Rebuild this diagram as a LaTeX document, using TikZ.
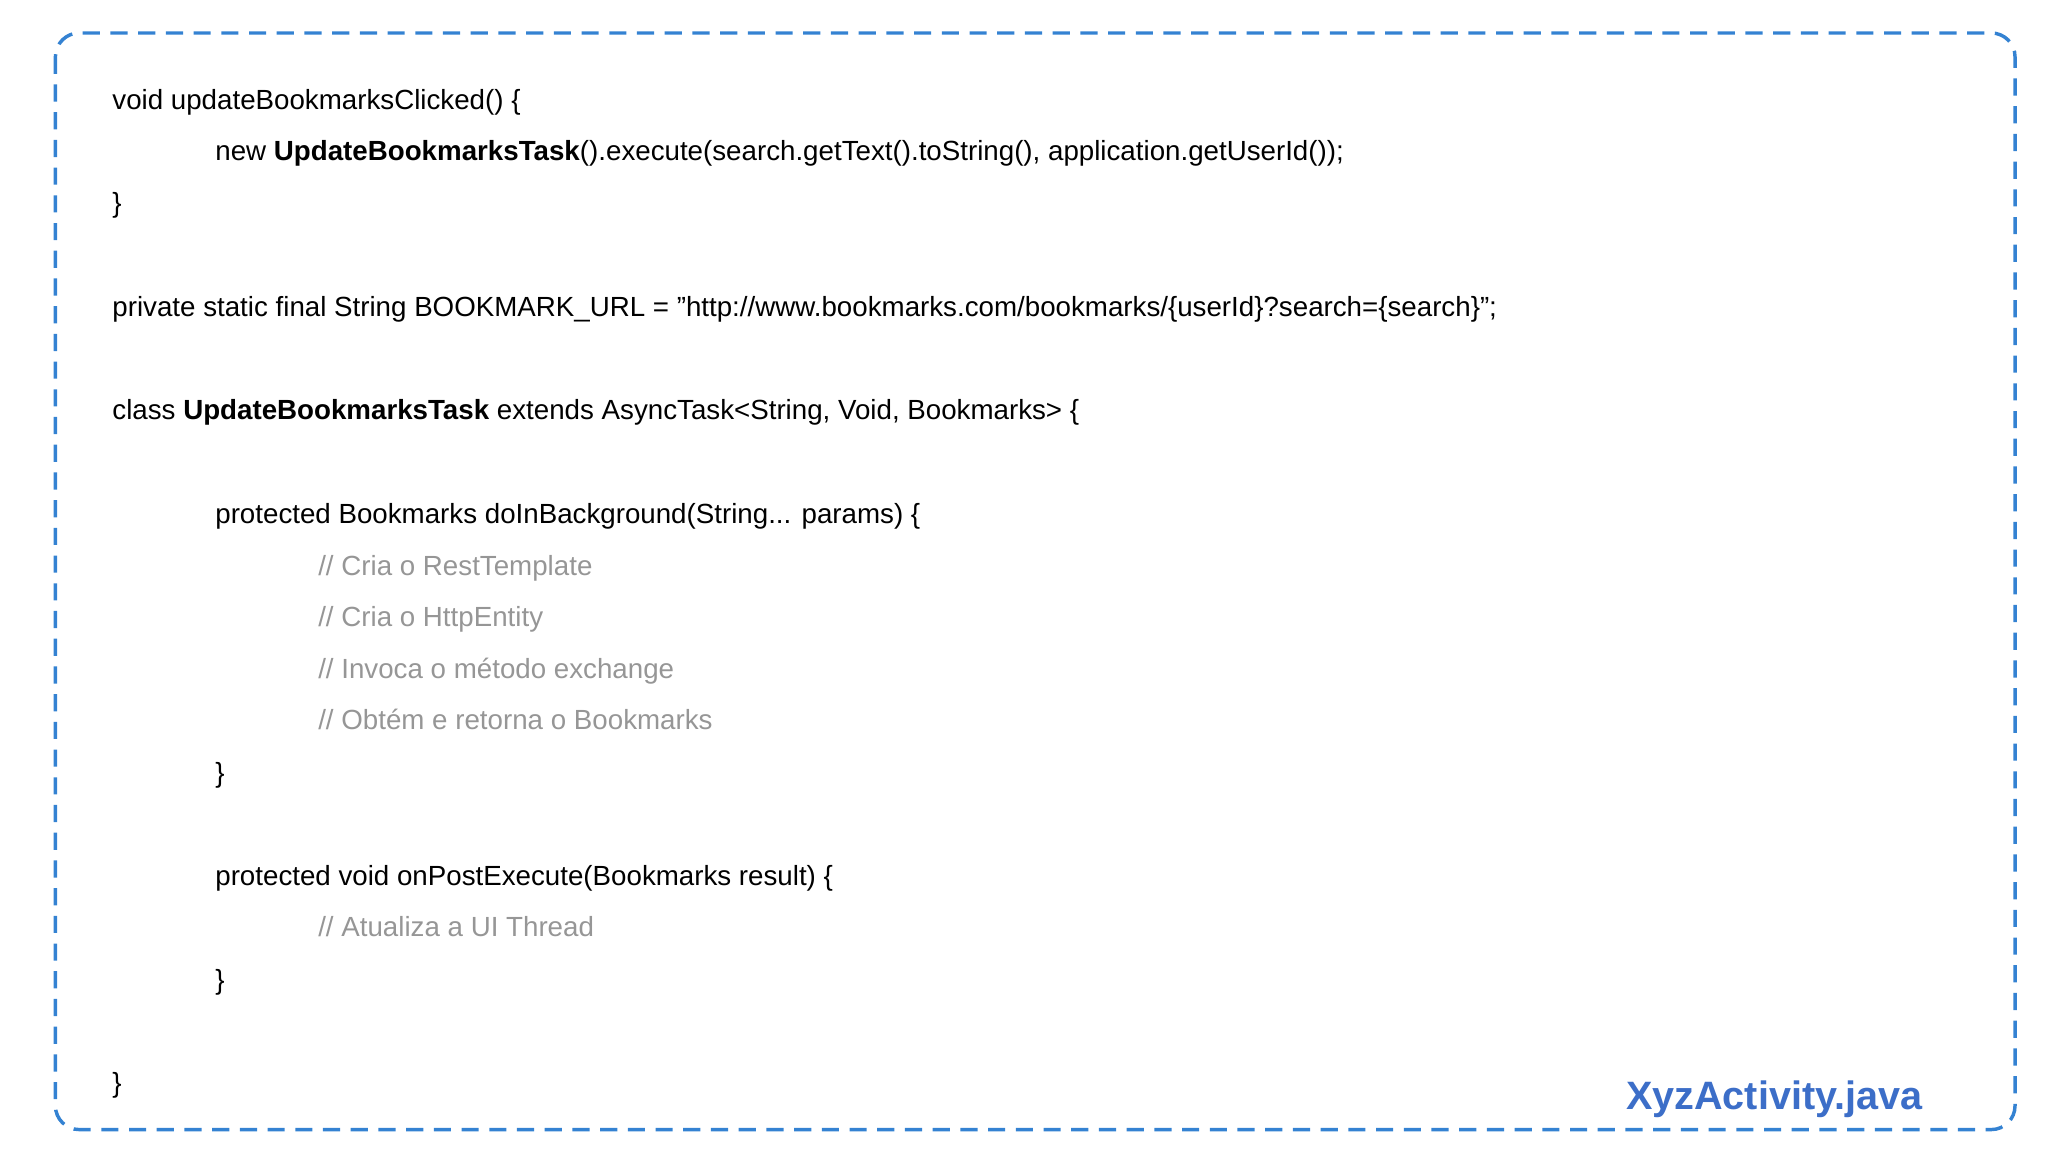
\documentclass[tikz,border=0pt]{standalone}
\usepackage{fontspec}
\setmainfont{Liberation Sans}
\definecolor{frameblue}{RGB}{52,130,210}
\definecolor{titleblue}{RGB}{60,110,200}
\definecolor{cmt}{RGB}{150,150,150}
\begin{document}
\begin{tikzpicture}[x=1pt,y=1pt,
  code/.style={anchor=base west,inner sep=0pt,font=\fontsize{21}{25}\selectfont},
  comment/.style={code,text=cmt}]
\useasboundingbox (0,0) rectangle (1552,-873);
\draw[frameblue,line width=2.6pt,dash pattern=on 13pt off 8pt,rounded corners=18pt] (42,-25) rectangle (1527,-856);
\node[code] (l1) at (85,-83) {void updateBookmarksClicked() \{};
\node[code] (l2) at (163,-122) {new \textbf{UpdateBookmarksTask}().execute(search.getText().toString(), application.getUserId());};
\node[code] (l3) at (85,-161) {\}};
\node[code] (l4) at (85,-240) {private static final String BOOKMARK\_URL = "http://www.bookmarks.com/bookmarks/\{userId\}?search=\{search\}";};
\node[code] (l5) at (85,-318) {class \textbf{UpdateBookmarksTask} extends AsyncTask<String, Void, Bookmarks> \{};
\node[code] (l6) at (163,-397) {protected Bookmarks doInBackground(String... params) \{};
\node[comment] (c1) at (241,-436) {// Cria o RestTemplate};
\node[comment] (c2) at (241,-475) {// Cria o HttpEntity};
\node[comment] (c3) at (241,-514) {// Invoca o método exchange};
\node[comment] (c4) at (241,-553) {// Obtém e retorna o Bookmarks};
\node[code] (l7) at (163,-593) {\}};
\node[code] (l8) at (163,-671) {protected void onPostExecute(Bookmarks result) \{};
\node[comment] (c5) at (241,-710) {// Atualiza a UI Thread};
\node[code] (l9) at (163,-750) {\}};
\node[code] (l10) at (85,-828) {\}};
\node[anchor=base east,inner sep=0pt,text=titleblue,font=\fontsize{30}{34}\selectfont\bfseries] (title) at (1457,-841) {XyzActivity.java};
\end{tikzpicture}
\end{document}
